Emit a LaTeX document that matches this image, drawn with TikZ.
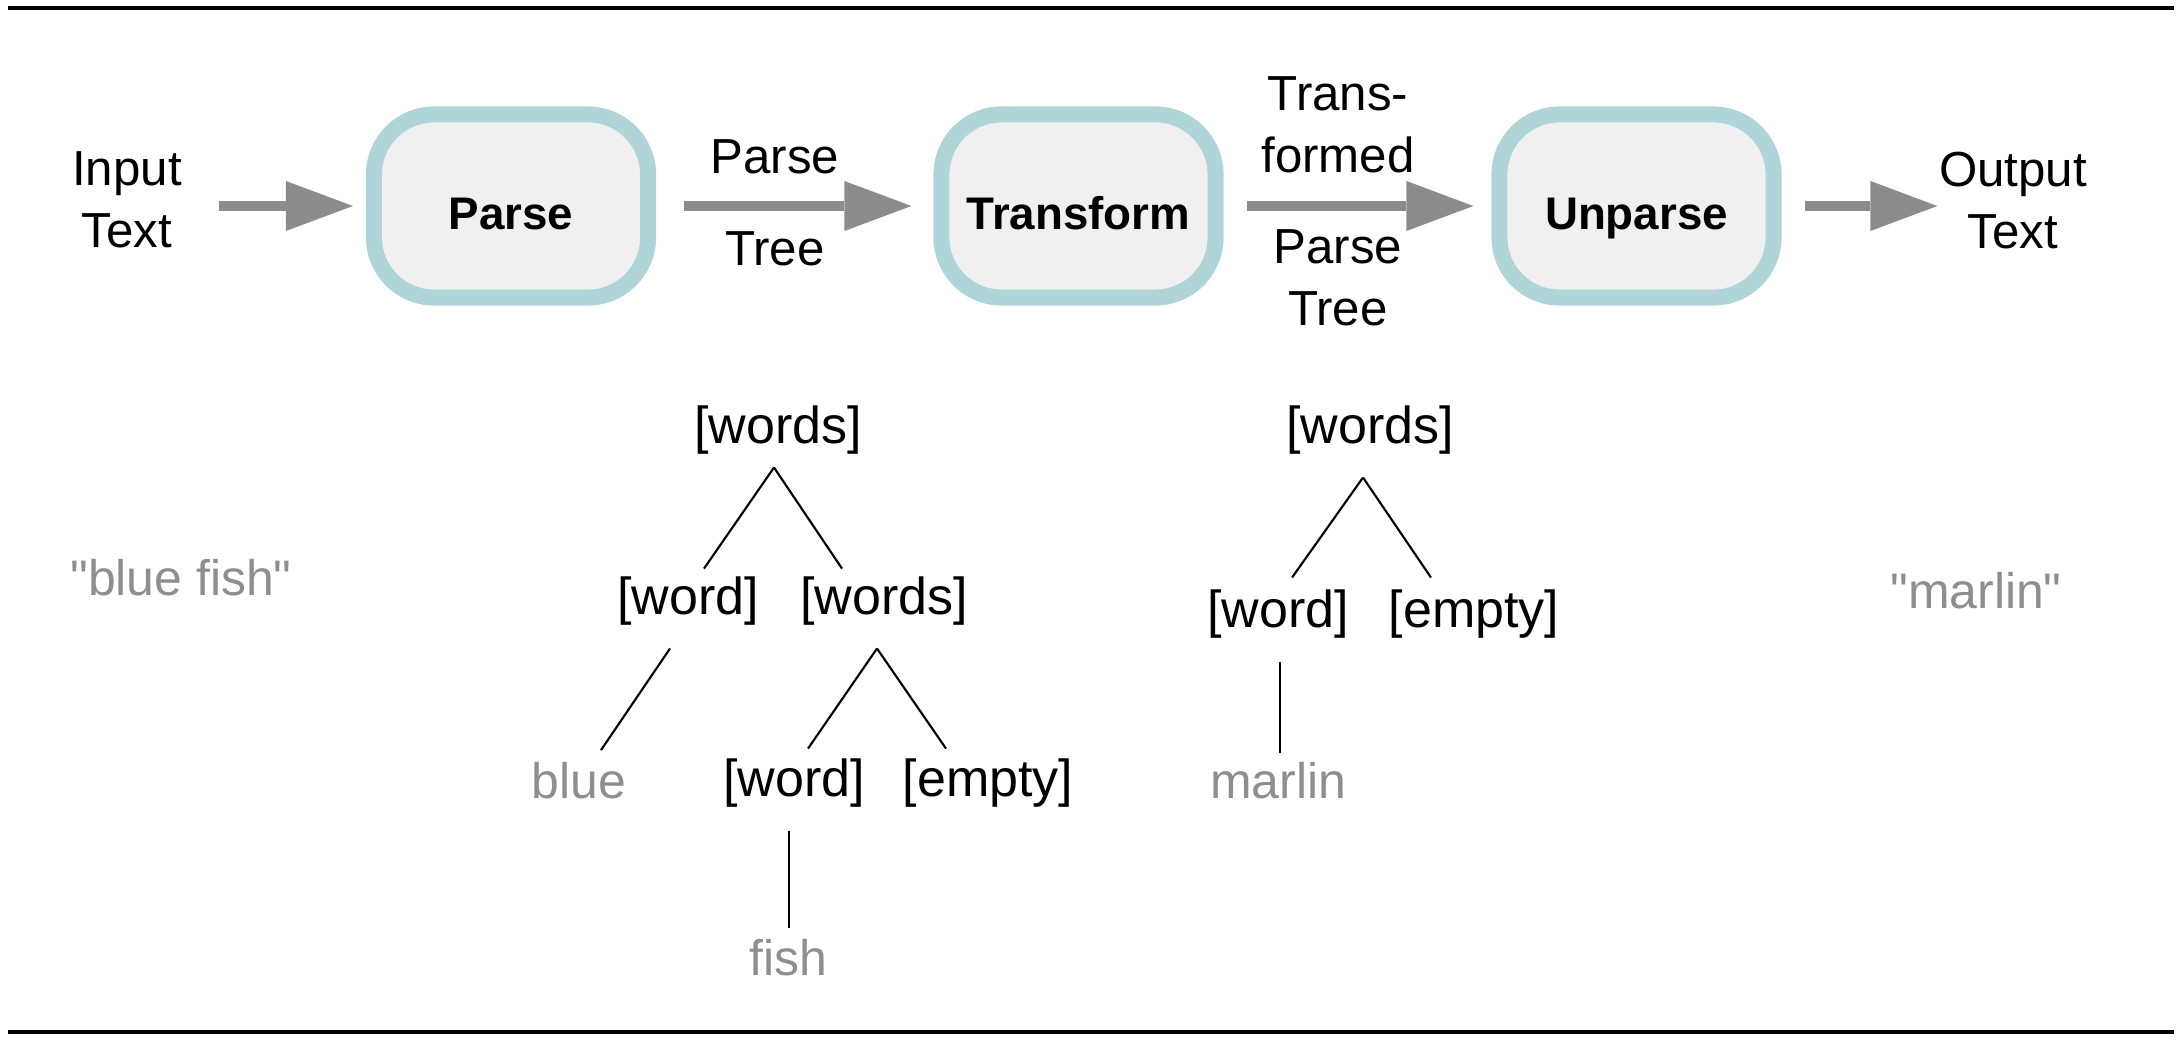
\documentclass[tikz,border=0pt]{standalone}
\usepackage{fontspec}
\setmainfont{Liberation Sans}
\usetikzlibrary{arrows.meta,calc}
\definecolor{boxborder}{HTML}{B0D5D9}
\definecolor{boxfill}{HTML}{F0F0F0}
\definecolor{arrowgray}{HTML}{8C8C8C}
\definecolor{leafgray}{HTML}{8E8E8E}
\begin{document}
\begin{tikzpicture}[x=0.01cm,y=-0.01cm,
  stagebox/.style={draw=boxborder, fill=boxfill, line width=0.16cm, rounded corners=0.6cm,
    minimum width=2.74cm, minimum height=1.83cm, inner sep=0pt, text height=0.46cm, text depth=0cm,
    font=\bfseries\fontsize{13pt}{15pt}\selectfont},
  flowarrow/.style={draw=arrowgray, line width=0.1cm, -{Triangle[length=0.67cm,width=0.5cm,line width=0pt]}},
  toplabel/.style={inner sep=0pt, align=center, font=\fontsize{14pt}{17.64pt}\selectfont},
  treenode/.style={inner sep=0pt, anchor=base, font=\fontsize{14.8pt}{17pt}\selectfont},
  leaf/.style={inner sep=0pt, anchor=base, text=leafgray, font=\fontsize{14.2pt}{17pt}\selectfont},
  treeedge/.style={line width=0.6pt},
  rulestyle/.style={line width=0.034cm}
]
\useasboundingbox (0,0) rectangle (2184,1040);

% rules
\draw[rulestyle] (8,8) -- (2174,8);
\draw[rulestyle] (8,1032) -- (2174,1032);

% stages
\node[stagebox] (parse) at (511,206) {Parse};
\node[stagebox] (transform) at (1078.5,206) {Transform};
\node[stagebox] (unparse) at (1636.5,206) {Unparse};

% labels
\node[toplabel, anchor=north] (input) at (127,151) {Input\\Text};
\node[toplabel, anchor=north] (output) at (2013,151) {Output\\Text};
\node[toplabel, anchor=base] (pt1) at (775,174) {Parse};
\node[toplabel, anchor=base] (pt2) at (775,266) {Tree};
\node[toplabel, anchor=north] (tpt1) at (1338,76) {Trans-\\formed};
\node[toplabel, anchor=north] (tpt2) at (1338,229) {Parse\\Tree};

% flow arrows
\draw[flowarrow, shorten <=0.37cm, shorten >=0.13cm] (input.east |- parse.west) -- (parse.west);
\draw[flowarrow, shorten <=0.28cm, shorten >=0.22cm] (parse.east) -- (transform.west);
\draw[flowarrow, shorten <=0.23cm, shorten >=0.18cm] (transform.east) -- (unparse.west);
\draw[flowarrow, shorten <=0.23cm, shorten >=0.01cm] (unparse.east) -- (output.west |- unparse.east);

% tree 1
\node[treenode] (r1) at (778,444) {[words]};
\node[treenode] (w1) at (688,615) {[word]};
\node[treenode] (ws1) at (884,615) {[words]};
\node[leaf] (blue) at (579,798) {blue};
\node[treenode] (w2) at (794,797) {[word]};
\node[treenode] (em1) at (988,797) {[empty]};
\node[leaf] (fish) at (788,975) {fish};
\node[leaf] (bluefish) at (181,596) {\textquotedbl blue fish\textquotedbl};

\draw[treeedge] ([shift={(-4,12)}]r1.south) -- ([shift={(16,-8)}]w1.north);
\draw[treeedge] ([shift={(-4,12)}]r1.south) -- ([shift={(-42,-8)}]ws1.north);
\draw[treeedge] ([shift={(-18,22)}]w1.south) -- ([shift={(22,-11)}]blue.north);
\draw[treeedge] ([shift={(-7,22)}]ws1.south) -- ([shift={(14,-10)}]w2.north);
\draw[treeedge] ([shift={(-7,22)}]ws1.south) -- ([shift={(-42,-10)}]em1.north);
\draw[treeedge] ([shift={(-5,22)}]w2.south) -- ([shift={(1,-10)}]fish.north);

% tree 2
\node[treenode] (r2) at (1370,444) {[words]};
\node[treenode] (w3) at (1278,627) {[word]};
\node[treenode] (em2) at (1474,627) {[empty]};
\node[leaf] (marlin) at (1278,798) {marlin};
\node[leaf] (marlinq) at (1976,609) {\textquotedbl marlin\textquotedbl};

\draw[treeedge] ([shift={(-7,22)}]r2.south) -- ([shift={(14,-11)}]w3.north);
\draw[treeedge] ([shift={(-7,22)}]r2.south) -- ([shift={(-43,-11)}]em2.north);
\draw[treeedge] ([shift={(2,23)}]w3.south) -- ([shift={(2,-8)}]marlin.north);
\end{tikzpicture}
\end{document}
